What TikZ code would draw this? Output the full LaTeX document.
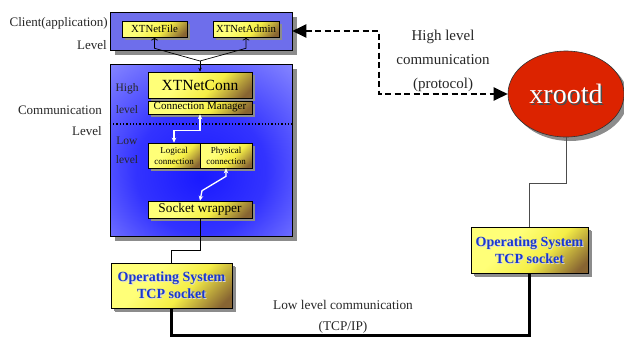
\documentclass[tikz,border=0pt]{standalone}
\usepackage{fontspec}
\setmainfont{Liberation Serif}
\usetikzlibrary{arrows.meta,shadows,calc,shapes.geometric}
\definecolor{ylight}{RGB}{255,255,120}
\definecolor{yyel}{RGB}{245,238,70}
\definecolor{ybrown}{RGB}{135,100,50}
\definecolor{cbandout}{RGB}{110,110,235}
\definecolor{osblue}{RGB}{25,55,210}
\definecolor{xred}{RGB}{220,35,0}
\pgfdeclareradialshading{commshade}{\pgfpoint{0bp}{-8bp}}{color(0bp)=(blue!90!white); color(18bp)=(blue!80!white); color(40bp)=(blue!45!white); color(60bp)=(blue!18!white); color(75bp)=(blue!8!white)}
\pgfdeclareverticalshading{yshade}{100bp}{color(0bp)=(ybrown); color(20bp)=(ybrown); color(42bp)=(yyel); color(62bp)=(ylight); color(100bp)=(ylight)}
\tikzset{
  shad/.style={drop shadow={shadow xshift=#1,shadow yshift=-#1,fill=black!45,opacity=1}},
  ybox/.style={draw=black, line width=0.6pt, shading=yshade, shading angle=45, inner sep=0pt, align=center, shad=3pt},
  lbl/.style={font=\fontsize{13}{14}\selectfont, text=black!85, inner sep=0pt},
  barrow/.style={draw=black, line width=0.7pt, -{Stealth[length=4pt,width=3.5pt]}},
  warrow/.style={draw=white, line width=1.3pt, {Stealth[length=5pt,width=4.5pt]}-{Stealth[length=5pt,width=4.5pt]}},
  dasharrow/.style={draw=black, line width=2.4pt, dash pattern=on 6pt off 3.5pt, {Triangle[length=14pt,width=13pt]}-{Triangle[length=14pt,width=13pt]}},
  thinline/.style={draw=black!70, line width=0.8pt},
  thickline/.style={draw=black, line width=2.8pt},
  ostext/.style={font=\fontsize{14}{17}\selectfont\bfseries, align=center, inner sep=0pt},
}
\begin{document}
\begin{tikzpicture}[x=1pt,y=-1pt]
\useasboundingbox (0,0) rectangle (624,338);
% client box
\node[draw=black, line width=0.6pt, minimum width=182pt, minimum height=38pt, inner sep=0pt,
      top color=cbandout, middle color=blue, bottom color=cbandout, shad=5pt] (client) at (201,31) {};
\node[ybox, minimum width=65pt, minimum height=16pt, font=\fontsize{10.8}{12}\selectfont] (xf) at (154.5,29) {XTNetFile};
\node[ybox, minimum width=66pt, minimum height=16pt, font=\fontsize{10.8}{12}\selectfont] (xa) at (246,29) {XTNetAdmin};
% communication box
\node[draw=black, line width=0.6pt, minimum width=182pt, minimum height=172pt, inner sep=0pt,
      shading=commshade, shad=5pt] (comm) at (201,150) {};
\draw[black, line width=1.3pt, dotted] (comm.west |- 0,124) coordinate (dl) -- (comm.east |- 0,124) coordinate (dr);
\node[ybox, minimum width=104pt, minimum height=26pt, font=\fontsize{15.5}{17}\selectfont] (conn) at (200,85) {XTNetConn};
\node[ybox, minimum width=104pt, minimum height=13pt, font=\fontsize{11}{12}\selectfont] (cm) at (200,107.5) {Connection Manager};
\node[ybox, minimum width=52pt, minimum height=25pt, font=\fontsize{9}{11}\selectfont] (lg) at (174,155.5) {Logical\\connection};
\node[ybox, minimum width=52pt, minimum height=25pt, font=\fontsize{9}{11}\selectfont] (ph) at (226,155.5) {Physical\\connection};
\node[ybox, minimum width=104pt, minimum height=17pt, font=\fontsize{13.3}{15}\selectfont] (sw) at (200,209.5) {Socket wrapper};
% inner labels
\node[lbl, font=\fontsize{11.5}{13}\selectfont] (hi1) at (127,89) {High};
\node[lbl, font=\fontsize{11.5}{13}\selectfont] (hi2) at (127,110) {level};
\node[lbl, font=\fontsize{11.5}{13}\selectfont] (lo1) at (127,141) {Low};
\node[lbl, font=\fontsize{11.5}{13}\selectfont] (lo2) at (127,160) {level};
% left labels
\node[lbl, anchor=east] (l1) at (108,23) {Client(application)};
\node[lbl, anchor=east] (l2) at (107,45) {Level};
\node[lbl, anchor=east] (l3) at (102,110) {Communication};
\node[lbl, anchor=east] (l4) at (102,131) {Level};
% OS boxes
\node[ybox, shad=4pt, minimum width=121pt, minimum height=45pt] (os1) at (171.5,285.5) {};
\node[ostext, text=white!70!gray] at ($(os1)+(1,1)$) {Operating System\\TCP socket};
\node[ostext, text=osblue] (os1t) at (os1) {Operating System\\TCP socket};
\node[ybox, shad=4pt, minimum width=117pt, minimum height=46pt] (os2) at (529.5,250) {};
\node[ostext, text=white!70!gray] at ($(os2)+(1,1)$) {Operating System\\TCP socket};
\node[ostext, text=osblue] (os2t) at (os2) {Operating System\\TCP socket};
% xrootd
\node[ellipse, draw=black!80, line width=0.6pt, fill=xred, minimum width=116pt, minimum height=86pt, inner sep=0pt, shad=4pt] (xr) at (566,94) {};
\node[font=\fontsize{28}{30}\selectfont, text=black!70, inner sep=0pt] at ($(xr)+(1.5,1.5)$) {xrootd};
\node[font=\fontsize{28}{30}\selectfont, text=white, inner sep=0pt] (xrt) at (xr) {xrootd};
% texts
\node[font=\fontsize{15}{24}\selectfont, align=center, text=black!85, inner sep=0pt] (hl) at (443,61) {High level\\communication\\(protocol)};
\node[font=\fontsize{13.3}{21}\selectfont, align=center, text=black!85, inner sep=0pt] (ll) at (343,316.5) {Low level communication\\(TCP/IP)};
% connectors
\coordinate (j) at (200,61);
\draw[barrow, <-] (xf.south) -- ++(0,11) -- (j);
\draw[barrow, <-] (xa.south) -- ++(0,11) -- (j);
\draw[barrow] (j) -- (conn.north);
\draw[warrow] (cm.south) -- ++(0,16) -| (lg.north);
\draw[warrow] (ph.south) -- ++(0,8) -- ($(sw.north)+(2,-10)$) -- (sw.north);
\draw[thinline, draw=black] (sw.south) -- ++(0,32) -| (os1.north);
\draw[thickline] (os1.south) -- ++(0,27.5) -| (os2.south);
\draw[thinline] (xr.south) -- ++(0,46) -| (os2.north);
\coordinate (d1) at (379,31);
\draw[dasharrow] (client.east) -- (d1) |- (xr.west);
\end{tikzpicture}
\end{document}
